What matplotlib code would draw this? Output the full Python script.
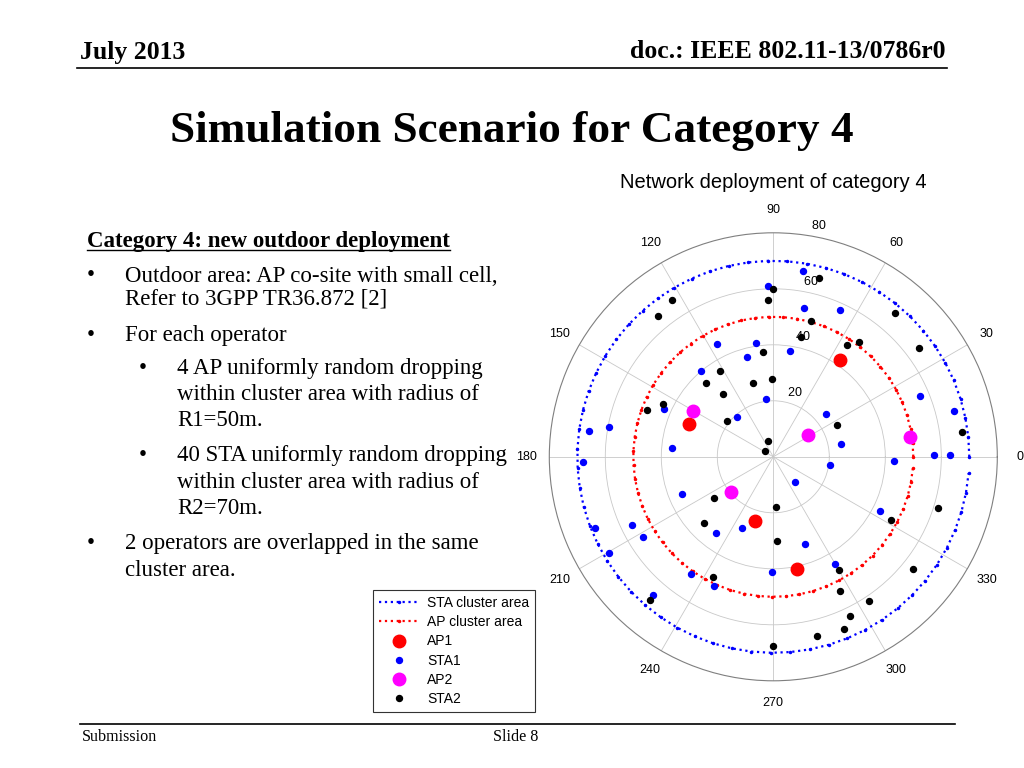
import numpy as np
import matplotlib
matplotlib.use("Agg")
import matplotlib.pyplot as plt
from matplotlib.lines import Line2D

SERIF = ["Liberation Serif", "DejaVu Serif"]
SANS = ["Liberation Sans", "DejaVu Sans"]

# cluster radii (m)
sta_radius = 70
ap_radius = 50

# node positions in metres (x east, y north)
ap1_x = [23.7, -30.0, -6.4, 8.6]
ap1_y = [34.6, 11.8, -22.8, -40.0]

ap2_x = [-28.8, 12.4, 48.9, -15.2]
ap2_y = [16.4, 7.7, 7.0, -12.5]

sta1_x = [-1.8, -20.0, -6.3, -9.4, -25.8, -2.5, -39.0, -12.9, -65.7, -58.6,
          -36.1, -67.8, 10.7, 11.1, 23.7, 6.1, 52.3, 64.4, 18.8, 24.1,
          57.4, 63.1, 43.1, 20.3, 7.8, 38.2, 11.2, -0.6, 21.9, -32.7,
          -11.3, -20.5, -50.5, -63.8, -46.4, -58.7, -29.5, -21.3, -42.9]
sta1_y = [61.0, 40.3, 40.8, 35.5, 30.5, 20.6, 17.1, 14.2, 9.3, 10.6,
          3.1, -1.7, 66.4, 53.0, 52.3, 37.8, 21.7, 16.5, 15.4, 4.7,
          0.5, 0.5, -1.5, -3.0, -9.1, -19.4, -31.1, -41.0, -38.4, -13.3,
          -25.3, -27.1, -24.4, -25.5, -28.5, -34.3, -41.9, -46.0, -49.5]

sta2_x = [-0.2, -1.8, -36.3, -41.1, -3.8, -18.9, -23.9, -7.1, -0.6, -17.9,
          -39.5, -45.0, -16.6, -1.8, -2.9, 16.3, 43.5, 13.5, 9.9, 26.3,
          30.5, 51.9, 22.9, 67.5, 0.9, 42.1, 58.8, 1.4, 23.5, 50.0,
          23.7, 34.3, 27.5, 25.3, 15.7, -0.2, -21.3, -24.6, -21.6, -44.1]
sta2_y = [59.8, 56.0, 56.0, 50.3, 37.3, 30.5, 26.4, 26.4, 27.8, 22.5,
          18.8, 16.8, 12.7, 5.5, 2.1, 63.8, 51.5, 48.4, 42.8, 40.0,
          41.1, 39.0, 11.5, 8.9, -17.8, -22.5, -18.2, -30.1, -40.4, -40.0,
          -47.9, -51.4, -56.8, -61.6, -64.0, -67.7, -14.7, -23.6, -43.0, -51.0]

r_ticks = [20, 40, 60, 80]
theta_ticks = list(range(0, 360, 30))
legend_labels = ["STA cluster area", "AP cluster area", "AP1", "STA1", "AP2", "STA2"]


def to_polar(x, y):
    x = np.asarray(x)
    y = np.asarray(y)
    return np.arctan2(y, x), np.hypot(x, y)


def fx(x):
    return x / 1024.0


def fy(y):
    return 1 - y / 768.0


fig = plt.figure(figsize=(10.24, 7.68), dpi=100)

# ---- slide header / footer ----
fig.text(fx(80), fy(52), "July 2013", family=SERIF, fontsize=18.5, fontweight="bold",
         ha="left", va="center")
fig.text(fx(946), fy(52), "doc.: IEEE 802.11-13/0786r0", family=SERIF, fontsize=18.5,
         fontweight="bold", ha="right", va="center")
fig.add_artist(Line2D([fx(77), fx(947)], [fy(68), fy(68)], color="black", lw=1.2))

fig.text(fx(512), fy(131), "Simulation Scenario for Category 4", family=SERIF,
         fontsize=32.6, fontweight="bold", ha="center", va="center")

fig.add_artist(Line2D([fx(80), fx(955)], [fy(724), fy(724)], color="black", lw=1.2))
fig.text(fx(82), fy(737), "Submission", family=SERIF, fontsize=11.6, ha="left", va="center")
fig.text(fx(516), fy(737), "Slide 8", family=SERIF, fontsize=11.6, ha="center", va="center")

# ---- left-hand bullet text ----
body = 16.5
head = fig.text(fx(87), fy(242), "Category 4: new outdoor deployment", family=SERIF,
                fontsize=body, fontweight="bold", ha="left", va="center")

lines = [
    (91, 125, 276, True, "Outdoor area: AP co-site with small cell,"),
    (91, 125, 299, False, "Refer to 3GPP TR36.872 [2]"),
    (91, 125, 335, True, "For each operator"),
    (143, 177, 368, True, "4 AP uniformly random dropping"),
    (143, 177, 394, False, "within cluster area with radius of"),
    (143, 177, 420, False, "R1=50m."),
    (143, 177, 455, True, "40 STA uniformly random dropping"),
    (143, 177, 482, False, "within cluster area with radius of"),
    (143, 177, 509, False, "R2=70m."),
    (91, 125, 543, True, "2 operators are overlapped in the same"),
    (91, 125, 570, False, "cluster area."),
]
for bx, tx, ty, bullet, txt in lines:
    if bullet:
        fig.text(fx(bx), fy(ty), "\u2022", family=SERIF, fontsize=body, ha="center", va="center")
    fig.text(fx(tx), fy(ty), txt, family=SERIF, fontsize=body, ha="left", va="center")

# ---- polar deployment plot ----
ax = fig.add_axes([fx(549.3), fy(456.8 + 224), 448 / 1024, 448 / 768], projection="polar")
ax.set_rlim(0, r_ticks[-1])
ax.set_rticks(r_ticks[:-1])
ax.set_yticklabels([])
ax.set_thetagrids(theta_ticks, labels=[])
ax.grid(True, color="#c8c8c8", lw=0.6, ls="-")
ax.spines["polar"].set_color("#7f7f7f")
ax.spines["polar"].set_linewidth(0.8)
ax.tick_params(length=0)

circ = np.arange(0, 2 * np.pi, 0.1)
h_sta_c, = ax.plot(circ, np.full_like(circ, sta_radius), color="blue", ls=":", lw=1.6,
                   marker=".", ms=3)
h_ap_c, = ax.plot(circ, np.full_like(circ, ap_radius), color="red", ls=":", lw=1.6,
                  marker=".", ms=3)

t, r = to_polar(ap1_x, ap1_y)
h_ap1, = ax.plot(t, r, ls="none", marker="o", ms=9, color="red", mec="red")
t, r = to_polar(sta1_x, sta1_y)
h_sta1, = ax.plot(t, r, ls="none", marker="o", ms=4.3, color="blue", mec="blue")
t, r = to_polar(ap2_x, ap2_y)
h_ap2, = ax.plot(t, r, ls="none", marker="o", ms=9, color="magenta", mec="magenta")
t, r = to_polar(sta2_x, sta2_y)
h_sta2, = ax.plot(t, r, ls="none", marker="o", ms=4.3, color="black", mec="black")

for a in theta_ticks:
    ax.text(np.deg2rad(a), r_ticks[-1] * 1.1, str(a), family=SANS, fontsize=9,
            ha="center", va="center")
for rv in r_ticks:
    ax.text(np.deg2rad(82), rv + 1, "  " + str(rv), family=SANS, fontsize=9,
            ha="left", va="bottom")

fig.text(fx(773), fy(182), "Network deployment of category 4", family=SANS, fontsize=14.5,
         ha="center", va="center")

leg = ax.legend([h_sta_c, h_ap_c, h_ap1, h_sta1, h_ap2, h_sta2], legend_labels,
                loc="upper left", bbox_to_anchor=(fx(373), fy(590)),
                bbox_transform=fig.transFigure, borderaxespad=0, numpoints=1,
                prop={"family": SANS, "size": 10}, frameon=True, fancybox=False,
                edgecolor="#333333", framealpha=1, handlelength=2.9,
                handletextpad=0.58, labelspacing=0.38, borderpad=0.42)
leg.get_frame().set_linewidth(0.8)
for hl in leg.get_lines()[:2]:
    hl.set_markevery([1])

# underline for the heading
fig.canvas.draw()
bb = head.get_window_extent().transformed(fig.transFigure.inverted())
fig.add_artist(Line2D([bb.x0, bb.x1], [bb.y0 + 0.003, bb.y0 + 0.003], color="black", lw=1.0))

fig.savefig("out.png", dpi=100)
